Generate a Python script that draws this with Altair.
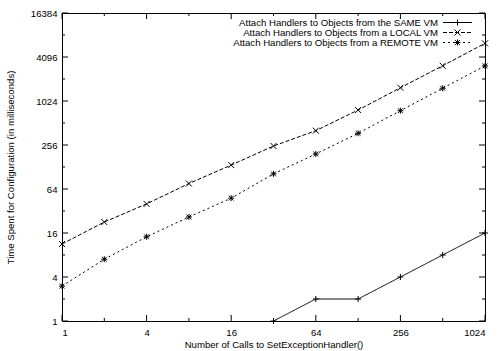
import altair as alt
import pandas as pd

# ---- data ----
calls = [1, 2, 4, 8, 16, 32, 64, 128, 256, 512, 1024]
same_vm = [None, None, None, None, None, 1, 2, 2, 4, 8, 16]
local_vm = [11.3, 22.6, 40, 76, 136, 248, 402, 771, 1555, 3110, 6300]
remote_vm = [3, 7, 14.2, 26.5, 48, 103, 193, 370, 755, 1530, 3100]

series_names = [
    "Attach Handlers to Objects from the SAME VM",
    "Attach Handlers to Objects from a LOCAL VM",
    "Attach Handlers to Objects from a REMOTE VM",
]
x_labels = [1, 4, 16, 64, 256, 1024]
y_labels = [1, 4, 16, 64, 256, 1024, 4096, 16384]
x_ticks = [1, 2, 4, 8, 16, 32, 64, 128, 256, 512, 1024]
y_ticks = [1, 2, 4, 8, 16, 32, 64, 128, 256, 512, 1024, 2048, 4096, 8192, 16384]

# ---- styles ----
W, H = 423, 308
FONT = "Liberation Sans"
FS = 9.6
dashes = [[1, 0], [4, 2], [2, 3]]
PLUS = "M-1,0L1,0M0,-1L0,1"
CROSS = "M-1,-1L1,1M-1,1L1,-1"
STAR = "M-1,0L1,0M0,-1L0,1M-0.8,-0.8L0.8,0.8M-0.8,0.8L0.8,-0.8"
shapes = [PLUS, CROSS, STAR]

rows = []
for name, vals in zip(series_names, [same_vm, local_vm, remote_vm]):
    for c, v in zip(calls, vals):
        if v is not None:
            rows.append({"calls": c, "ms": v, "series": name})
df = pd.DataFrame(rows)

xscale = alt.Scale(type="log", base=2, domain=[1, 1024], nice=False)
yscale = alt.Scale(type="log", base=2, domain=[1, 16384], nice=False)

X = alt.X("calls:Q", scale=xscale,
          axis=alt.Axis(values=x_labels, format="d", tickSize=0, domain=False, grid=False,
                        labelPadding=6, labelFont=FONT, labelFontSize=FS, labelColor="black",
                        title="Number of Calls to SetExceptionHandler()",
                        titleFont=FONT, titleFontSize=FS, titleFontWeight="normal",
                        titleColor="black", titleBaseline="middle", titleY=23))
Y = alt.Y("ms:Q", scale=yscale,
          axis=alt.Axis(values=y_labels, format="d", tickSize=0, domain=False, grid=False,
                        labelPadding=5, labelFont=FONT, labelFontSize=FS, labelColor="black",
                        title="Time Spent for Configuration (in milliseconds)",
                        titleFont=FONT, titleFontSize=FS, titleFontWeight="normal",
                        titleColor="black", titleAngle=-90, titleBaseline="middle",
                        titleAlign="center", titleX=-52, titleY=H / 2))

dash_scale = alt.Scale(domain=series_names, range=dashes)
shape_scale = alt.Scale(domain=series_names, range=shapes)

lines = alt.Chart(df).mark_line(color="black", strokeWidth=1, clip=True).encode(
    x=X, y=Y,
    strokeDash=alt.StrokeDash("series:N", scale=dash_scale, legend=None),
    detail="series:N",
)
points = alt.Chart(df).mark_point(color="black", filled=False, size=36, strokeWidth=1, opacity=1).encode(
    x=alt.X("calls:Q", scale=xscale),
    y=alt.Y("ms:Q", scale=yscale),
    shape=alt.Shape("series:N", scale=shape_scale, legend=None),
)

# inward ticks on all four sides
xt = pd.DataFrame({"calls": x_ticks, "major": [v in x_labels for v in x_ticks]})
yt = pd.DataFrame({"ms": y_ticks, "major": [v in y_labels for v in y_ticks]})
tick_layers = []
for major, ln in [(True, 6), (False, 3)]:
    xd = xt[xt.major == major]
    yd = yt[yt.major == major]
    tick_layers.append(alt.Chart(xd).mark_rule(color="black", strokeWidth=1).encode(
        x=alt.X("calls:Q", scale=xscale), y=alt.value(H), y2=alt.value(H - ln)))
    tick_layers.append(alt.Chart(xd).mark_rule(color="black", strokeWidth=1).encode(
        x=alt.X("calls:Q", scale=xscale), y=alt.value(0), y2=alt.value(ln)))
    tick_layers.append(alt.Chart(yd).mark_rule(color="black", strokeWidth=1).encode(
        y=alt.Y("ms:Q", scale=yscale), x=alt.value(0), x2=alt.value(ln)))
    tick_layers.append(alt.Chart(yd).mark_rule(color="black", strokeWidth=1).encode(
        y=alt.Y("ms:Q", scale=yscale), x=alt.value(W), x2=alt.value(W - ln)))

# hand-built legend (text right-aligned, sample on the right)
leg_layers = []
for i, name in enumerate(series_names):
    ly = 9.5 + 10 * i
    ldf = pd.DataFrame({"series": [name]})
    leg_layers.append(alt.Chart(ldf).mark_text(align="right", baseline="middle", font=FONT,
                                               fontSize=FS, color="black").encode(
        text="series:N", x=alt.value(376), y=alt.value(ly)))
    leg_layers.append(alt.Chart(ldf).mark_rule(color="black", strokeWidth=1,
                                               strokeDash=dashes[i]).encode(
        x=alt.value(381), x2=alt.value(410), y=alt.value(ly)))
    leg_layers.append(alt.Chart(ldf).mark_point(color="black", filled=False, size=36,
                                                strokeWidth=1, shape=shapes[i], opacity=1).encode(
        x=alt.value(395.5), y=alt.value(ly)))

chart = alt.layer(lines, points, *tick_layers, *leg_layers).properties(
    width=W, height=H,
    autosize=alt.AutoSizeParams(type="none"),
    padding={"left": 62, "top": 13, "right": 16, "bottom": 30},
    background="white",
).configure_view(stroke="black", strokeWidth=1)

chart.save("out.html", embed_options={"renderer": "svg", "actions": False})
